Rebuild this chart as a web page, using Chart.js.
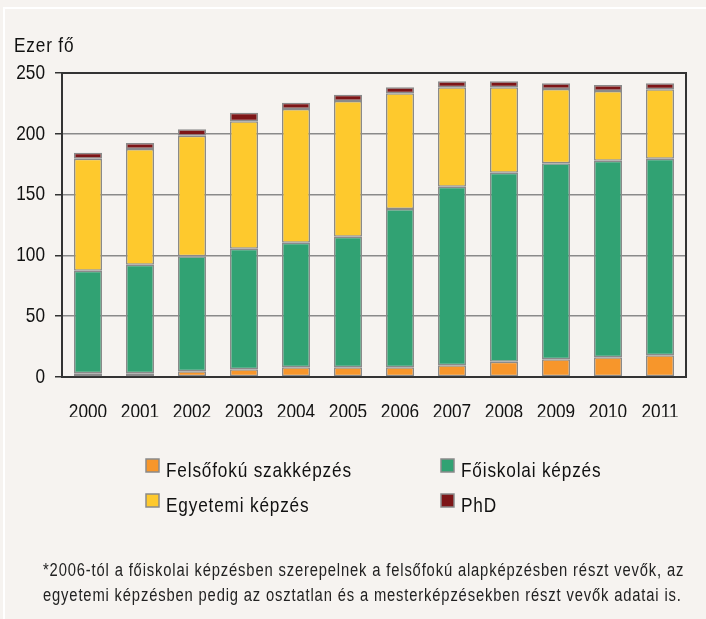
<!DOCTYPE html>
<html><head><meta charset="utf-8">
<script src="https://cdn.jsdelivr.net/npm/chart.js@4/dist/chart.umd.min.js"></script>
<style>
html,body{margin:0;padding:0;background:#f6f3f0;}
#wrap{position:relative;width:706px;height:619px;}
canvas{display:block}
</style></head><body>
<div id="wrap"><canvas id="c" width="706" height="619"></canvas></div>
<script>
const years = ['2000','2001','2002','2003','2004','2005','2006','2007','2008','2009','2010','2011'];
const felsofoku = [3, 3, 4.7, 6.3, 8, 8, 8, 9.6, 12.6, 14.6, 16.2, 17.8];
const foiskolai = [84.4, 89.4, 94.6, 99.2, 102.4, 107.4, 130.2, 146.9, 155.4, 161.1, 161.7, 161.7];
const egyetemi = [92, 95.1, 99.1, 104.8, 110, 111.6, 95.1, 81.7, 70.2, 61.1, 57.3, 57.1];
const phd = [5, 4.9, 5.3, 7.1, 5.2, 5.2, 4.9, 5, 5, 4.7, 4.9, 4.9];
const seriesLabels = ['Felsőfokú szakképzés', 'Főiskolai képzés', 'Egyetemi képzés', 'PhD'];
const yTickValues = [0, 50, 100, 150, 200, 250];
const unitLabel = 'Ezer fő';
const footnoteLines = [
  '*2006-tól a főiskolai képzésben szerepelnek a felsőfokú alapképzésben részt vevők, az',
  'egyetemi képzésben pedig az osztatlan és a mesterképzésekben részt vevők adatai is.'
];

const FONT = '"Liberation Sans", Arial, sans-serif';
const NARROW = 0.82; // horizontal condensing to mimic a narrow typeface
const colors = ['#f7962b', '#31a273', '#fec92d', '#7d1517'];
const edge = '#8a8a8a';

const canvas = document.getElementById('c');
const ctx0 = canvas.getContext('2d');
const origFill = ctx0.fillText.bind(ctx0);
ctx0.fillText = function (t, x, y, mw) {
  this.save();
  this.translate(x, y);
  this.scale(NARROW, 1);
  origFill(t, 0, 0);
  this.restore();
};

const decor = {
  id: 'decor',
  beforeDraw(chart) {
    const ctx = chart.ctx;
    ctx.save();
    ctx.fillStyle = '#f6f3f0';
    ctx.fillRect(0, 0, chart.width, chart.height);
    ctx.fillStyle = '#ffffff';
    ctx.fillRect(3, 7, chart.width - 3, 2);
    ctx.fillRect(3, 7, 2, chart.height - 7);
    ctx.restore();
  },
  afterDraw(chart) {
    const ctx = chart.ctx;
    const a = chart.chartArea;
    ctx.save();
    ctx.strokeStyle = '#333';
    ctx.lineWidth = 2;
    ctx.beginPath();
    ctx.moveTo(a.left, a.top);
    ctx.lineTo(a.right, a.top);
    ctx.lineTo(a.right, a.bottom);
    ctx.stroke();

    ctx.fillStyle = '#111';
    ctx.font = '21px ' + FONT;
    ctx.textBaseline = 'alphabetic';
    ctx.textAlign = 'left';
    ctx.letterSpacing = '1px';
    ctx.fillText(unitLabel, 14, 52);

    // legend 2x2
    const ds = chart.data.datasets;
    const colX = [146, 441];
    const rowBase = [477, 512];
    ds.forEach((d, i) => {
      const cx = colX[i % 2];
      const by = rowBase[Math.floor(i / 2)];
      ctx.fillStyle = d.backgroundColor;
      ctx.fillRect(cx, by - 18, 13, 13);
      ctx.strokeStyle = edge;
      ctx.lineWidth = 1.5;
      ctx.strokeRect(cx, by - 18, 13, 13);
      ctx.fillStyle = '#111';
      ctx.fillText(d.label, cx + 20, by);
    });

    ctx.font = '18px ' + FONT;
    ctx.letterSpacing = '0px';
    const w0 = ctx.measureText(footnoteLines[0]).width;
    const sp = (641 / NARROW - w0) / footnoteLines[0].length;
    ctx.letterSpacing = sp.toFixed(2) + 'px';
    ctx.fillStyle = '#222';
    ctx.fillText(footnoteLines[0], 43, 576);
    ctx.fillText(footnoteLines[1], 43, 601);
    ctx.restore();
  }
};

const datasets = [felsofoku, foiskolai, egyetemi, phd].map((vals, i) => ({
  label: seriesLabels[i],
  data: vals,
  backgroundColor: colors[i],
  borderColor: edge,
  borderWidth: 1.5,
  borderSkipped: false,
  barPercentage: 0.9,
  categoryPercentage: 0.6
}));

new Chart(canvas, {
  type: 'bar',
  data: { labels: years, datasets },
  plugins: [decor],
  options: {
    responsive: false,
    animation: false,
    devicePixelRatio: 1,
    layout: { padding: { left: 0, right: 10, top: 73, bottom: 202 } },
    plugins: { legend: { display: false }, tooltip: { enabled: false } },
    scales: {
      x: {
        stacked: true,
        grid: { display: false, drawTicks: false },
        border: { display: true, color: '#333', width: 2 },
        ticks: { color: '#111', font: { family: FONT, size: 21 }, padding: 23, maxRotation: 0, autoSkip: false },
        afterFit(s) { s.height = 40; }
      },
      y: {
        stacked: true,
        min: 0, max: 250,
        afterBuildTicks(s) { s.ticks = yTickValues.map(v => ({ value: v })); },
        grid: { color: '#8a8a8a', lineWidth: 1.5, tickColor: '#333', tickLength: 7, tickWidth: 1.5 },
        border: { display: true, color: '#333', width: 2 },
        ticks: { color: '#111', font: { family: FONT, size: 21 }, padding: 10 },
        afterFit(s) { s.width = 62; }
      }
    }
  }
});
</script>
</body></html>
